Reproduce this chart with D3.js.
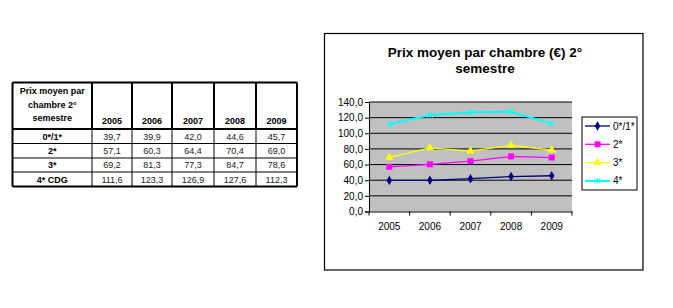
<!DOCTYPE html>
<html><head><meta charset="utf-8">
<script src="https://cdn.jsdelivr.net/npm/d3@7"></script>
<style>body{margin:0;background:#fff}svg{display:block}text{font-family:"Liberation Sans",Arial,sans-serif}</style>
</head><body>
<script>
const years = ["2005","2006","2007","2008","2009"];
const seriesNames = ["0*/1*","2*","3*","4*"];
const tableRowLabels = ["0*/1*","2*","3*","4* CDG"];
const s01 = [39.7,39.9,42.0,44.6,45.7];
const s2 = [57.1,60.3,64.4,70.4,69.0];
const s3 = [69.2,81.3,77.3,84.7,78.6];
const s4 = [111.6,123.3,126.9,127.6,112.3];
const seriesValues = [s01,s2,s3,s4];
const seriesColors = ["#000080","#ff00ff","#ffff00","#00ffff"];
const seriesMarkers = ["diamond","square","triangle","star"];
const yTicks = [0,20,40,60,80,100,120,140];
const tableHeader = ["Prix moyen par","chambre 2°","semestre"];
const chartTitle = ["Prix moyen par chambre (€) 2°","semestre"];

const W=673,H=308;
const svg=d3.select("body").append("svg").attr("width",W).attr("height",H);
svg.append("rect").attr("width",W).attr("height",H).attr("fill","#fff");

// ---------- table ----------
const fmt = v => d3.format(".1f")(v).replace(".",",");
const colX = [12.5,92,132,172,214,256,297];
const rowY = [82.5,129,143.5,158,172,186.5];
const T = svg.append("g");
for(let r=0;r<rowY.length;r++){
  T.append("line").attr("x1",colX[0]).attr("x2",colX[colX.length-1]).attr("y1",rowY[r]).attr("y2",rowY[r])
   .attr("stroke","#000").attr("stroke-width",(r===0||r===1||r===rowY.length-1)?2:1);
}
for(let c=0;c<colX.length;c++){
  const outer = c===0||c===colX.length-1;
  T.append("line").attr("x1",colX[c]).attr("x2",colX[c]).attr("y1",rowY[0]).attr("y2",rowY[1])
   .attr("stroke","#000").attr("stroke-width",2);
  T.append("line").attr("x1",colX[c]).attr("x2",colX[c]).attr("y1",rowY[1]).attr("y2",rowY[rowY.length-1])
   .attr("stroke","#000").attr("stroke-width",outer?2:1);
}
const hx=(colX[0]+colX[1])/2;
tableHeader.forEach((t,i)=>T.append("text").attr("x",hx).attr("y",94+i*13.5).attr("text-anchor","middle")
  .attr("font-size",9).attr("font-weight","bold").text(t));
years.forEach((y,i)=>T.append("text").attr("x",(colX[i+1]+colX[i+2])/2).attr("y",124).attr("text-anchor","middle")
  .attr("font-size",9).attr("font-weight","bold").text(y));
tableRowLabels.forEach((l,r)=>{
  const cy=(rowY[r+1]+rowY[r+2])/2+3.3;
  T.append("text").attr("x",hx).attr("y",cy).attr("text-anchor","middle").attr("font-size",9).attr("font-weight","bold").text(l);
  seriesValues[r].forEach((v,i)=>T.append("text").attr("x",(colX[i+1]+colX[i+2])/2).attr("y",cy).attr("text-anchor","middle")
    .attr("font-size",9).attr("fill","#222").text(fmt(v)));
});

// ---------- chart ----------
svg.append("rect").attr("x",324.5).attr("y",33.5).attr("width",318.5).attr("height",236.5)
  .attr("fill","#fff").attr("stroke","#000").attr("stroke-width",1.2);
chartTitle.forEach((t,i)=>svg.append("text").attr("x",485).attr("y",57+i*16).attr("text-anchor","middle")
  .attr("font-size",13.5).attr("font-weight","bold").text(t));

const x=d3.scaleBand().domain(years).range([369,572]).padding(0);
const y=d3.scaleLinear().domain([0,140]).range([211.5,102]);
svg.append("rect").attr("x",369).attr("y",y(140)).attr("width",572-369).attr("height",y(0)-y(140)).attr("fill","#c0c0c0");
svg.append("g").selectAll("line").data(yTicks.slice(1)).join("line")
  .attr("x1",369).attr("x2",572).attr("y1",d=>y(d)).attr("y2",d=>y(d)).attr("stroke","#000").attr("stroke-width",1);

const yAxis=svg.append("g").attr("transform","translate(369,0)")
  .call(d3.axisLeft(y).tickValues(yTicks).tickSize(4).tickPadding(2).tickFormat(fmt));
yAxis.select(".domain").attr("stroke","#000");
yAxis.selectAll("text").attr("font-size",10).attr("fill","#000").style("font-family","'Liberation Sans',Arial,sans-serif");

const xAxis=svg.append("g").attr("transform",`translate(0,${y(0)})`)
  .call(d3.axisBottom(x).tickSize(0).tickPadding(11));
xAxis.select(".domain").attr("stroke","#000");
xAxis.selectAll("text").attr("font-size",10).attr("fill","#000").style("font-family","'Liberation Sans',Arial,sans-serif");
const bounds=[...years.map(d=>x(d)),x.range()[1]];
svg.append("g").selectAll("line").data(bounds).join("line")
  .attr("x1",d=>d).attr("x2",d=>d).attr("y1",y(0)).attr("y2",y(0)+4).attr("stroke","#000");

function marker(g,type,color,cx,cy){
  if(type==="diamond"){
    g.append("path").attr("d",d3.symbol(d3.symbolDiamond,26)()).attr("transform",`translate(${cx},${cy})`).attr("fill",color);
  }else if(type==="square"){
    g.append("rect").attr("x",cx-3).attr("y",cy-3).attr("width",6).attr("height",6).attr("fill",color);
  }else if(type==="triangle"){
    g.append("path").attr("d",d3.symbol(d3.symbolTriangle,30)()).attr("transform",`translate(${cx},${cy})`).attr("fill",color);
  }else{
    g.append("path").attr("d",d3.symbol(d3.symbolTimes,22)()).attr("transform",`translate(${cx},${cy})`).attr("stroke",color).attr("stroke-width",1).attr("fill","none");
    g.append("line").attr("x1",cx).attr("x2",cx).attr("y1",cy-2.5).attr("y2",cy+2.5).attr("stroke",color).attr("stroke-width",1);
  }
}
const line=d3.line().x((d,i)=>x(years[i])+x.bandwidth()/2).y(d=>y(d));
const lg=svg.append("g");
seriesValues.forEach((vals,s)=>{
  lg.append("path").datum(vals).attr("d",line).attr("fill","none").attr("stroke",seriesColors[s]).attr("stroke-width",s===3?2:1.3);
  vals.forEach((v,i)=>marker(lg,seriesMarkers[s],seriesColors[s],x(years[i])+x.bandwidth()/2,y(v)));
});

// legend
svg.append("rect").attr("x",582).attr("y",117).attr("width",55).attr("height",73).attr("fill","#fff").attr("stroke","#000").attr("stroke-width",1);
seriesNames.forEach((n,s)=>{
  const ly=126+s*18.3;
  svg.append("line").attr("x1",585).attr("x2",610).attr("y1",ly).attr("y2",ly).attr("stroke",seriesColors[s]).attr("stroke-width",s===3?2:1.3);
  marker(svg,seriesMarkers[s],seriesColors[s],597.5,ly);
  svg.append("text").attr("x",613).attr("y",ly+3.5).attr("font-size",10).text(n);
});
</script>
</body></html>
